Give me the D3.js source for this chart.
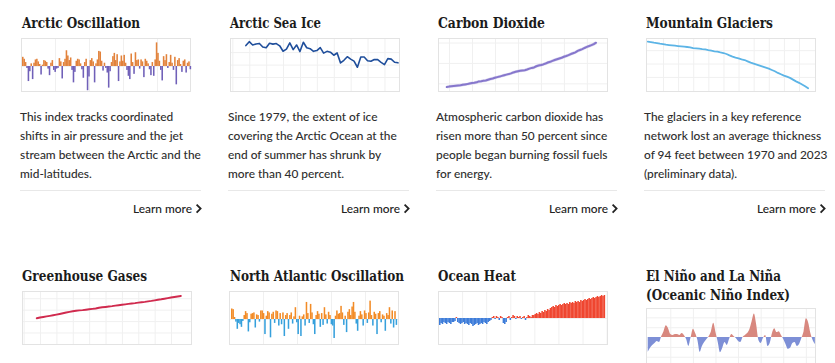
<!DOCTYPE html>
<html>
<head>
<meta charset="utf-8">
<script src="https://cdn.jsdelivr.net/npm/d3@7"></script>
<style>
  body { margin: 0; background: #fff; }
</style>
</head>
<body>
<svg id="chart" width="835" height="363"></svg>
<script>
'use strict';

// ---- data ----
var titles = [
    ['Arctic Oscillation'], ['Arctic Sea Ice'], ['Carbon Dioxide'], ['Mountain Glaciers'],
    ['Greenhouse Gases'], ['North Atlantic Oscillation'], ['Ocean Heat'],
    ['El Niño and La Niña', '(Oceanic Niño Index)']
];

var descriptions = [
    ['This index tracks coordinated', 'shifts in air pressure and the jet', 'stream between the Arctic and the', 'mid-latitudes.'],
    ['Since 1979, the extent of ice', 'covering the Arctic Ocean at the', 'end of summer has shrunk by', 'more than 40 percent.'],
    ['Atmospheric carbon dioxide has', 'risen more than 50 percent since', 'people began burning fossil fuels', 'for energy.'],
    ['The glaciers in a key reference', 'network lost an average thickness', 'of 94 feet between 1970 and 2023', '(preliminary data).']
];

var linkLabel = 'Learn more';

var aoValues = [
    1.4, 1.1, 0.6, -0.3, -2.3, -0.8, 0.4, -2.0, 0.5, 1.0,
    1.1, 0.7, 0.3, -1.3, 0.2, 0.9, 0.8, 0.6, -0.4, -1.4,
    0.5, 0.9, -0.6, -0.9, -0.4, -0.3, 1.2, 0.7, -1.9, 0.6,
    1.1, 2.4, 1.6, 0.9, 1.3, -0.6, -2.5, -0.9, 0.8, 1.1,
    1.0, 0.4, -0.5, -1.8, 0.6, 1.1, -3.7, -1.6, 0.9, 1.2,
    0.7, -2.5, 0.4, 1.0, 2.3, 2.2, 0.8, -0.7, 0.5, -0.3,
    -1.0, -3.3, -0.8, 0.6, 1.5, 2.0, 0.9, 1.8, -2.3, 0.7,
    1.6, 0.8, 1.7, 0.5, -0.6, -1.5, -2.0, 1.9, 0.6, -1.2,
    2.1, 0.9, 1.0, -0.4, 1.0, 0.7, -1.7, 1.1, 0.8, 0.4,
    -0.5, -1.4, 0.6, -1.5, 1.0, 3.6, 2.0, 0.8, -0.6, -2.2,
    1.5, 0.9, 1.8, -0.3, 0.6, 1.7, 0.5, -0.6, 1.4, -2.8,
    0.9, 1.2, 0.3, -0.9, 0.8, 1.0, -1.0, 0.5, 0.7, -0.5
];

// September extent, million km2
var iceStart = 1979;
var iceValues = [
    7.05, 7.67, 7.14, 7.30, 7.39, 6.81, 6.70, 7.41, 7.28, 7.37,
    7.01, 6.14, 6.47, 7.47, 6.40, 7.14, 6.08, 7.58, 6.69, 6.54,
    6.12, 6.25, 6.73, 5.83, 6.12, 5.98, 5.50, 5.86, 4.27, 4.69,
    5.26, 4.87, 4.56, 3.57, 5.21, 5.22, 4.62, 4.53, 4.82, 4.79,
    4.36, 4.00, 4.95, 4.87, 4.37, 4.28
];

// ppm, annual means
var co2Start = 1959;
var co2Values = [
    315.98, 316.91, 317.64, 318.45, 318.99, 319.62, 320.04, 321.37, 322.18, 323.05,
    324.62, 325.68, 326.32, 327.46, 329.68, 330.19, 331.12, 332.03, 333.84, 335.41,
    336.84, 338.76, 340.12, 341.48, 343.15, 344.87, 346.35, 347.61, 349.31, 351.69,
    353.20, 354.45, 355.70, 356.54, 357.21, 358.96, 360.97, 362.74, 363.88, 366.84,
    368.54, 369.71, 371.32, 373.45, 375.98, 377.70, 379.98, 382.09, 384.02, 385.83,
    387.64, 390.10, 391.85, 394.06, 396.74, 398.81, 401.01, 404.41, 406.76, 408.72,
    411.65, 414.21, 416.41, 418.53, 421.08, 424.61
];

// cumulative thickness change, feet
var glacierStart = 1970;
var glacierValues = [
    0, -0.7, -2, -2.7, -4, -4.7, -6, -6.7, -7.4, -8,
    -8.7, -9.4, -10, -10.7, -11.4, -12.8, -13.4, -14, -14.8, -15.4,
    -16.8, -18, -19.5, -20, -21.5, -22.8, -24.8, -27.5, -30, -32,
    -33.5, -35.5, -37, -39.6, -42.3, -44.3, -46.3, -48.3, -50.3, -52.3,
    -54.4, -57, -59.7, -63, -65.7, -68.4, -70.5, -73, -76.5, -80,
    -83, -86.5, -90, -94
];

// Annual Greenhouse Gas Index
var ghgStart = 1979;
var ghgValues = [
    0.785, 0.808, 0.826, 0.843, 0.860, 0.878, 0.898, 0.918, 0.940, 0.963,
    0.982, 1.000, 1.016, 1.027, 1.036, 1.048, 1.062, 1.074, 1.086, 1.107,
    1.122, 1.133, 1.146, 1.159, 1.175, 1.187, 1.200, 1.213, 1.226, 1.238,
    1.249, 1.264, 1.276, 1.289, 1.305, 1.319, 1.336, 1.355, 1.369, 1.386,
    1.405, 1.422, 1.437, 1.454, 1.469
];

var naoValues = [
    1.6, 1.5, 0.3, -0.4, -1.5, -0.6, -0.8, -1.2, -0.3, 0.6,
    1.2, 0.9, -1.9, -0.5, 0.8, 0.9, 1.0, -1.3, 0.7, 0.6,
    -0.4, 1.3, 1.3, 0.9, -2.3, 0.5, 1.2, 1.0, -2.8, 0.8,
    1.1, -0.6, 1.3, 1.2, -1.0, 0.9, -0.8, 1.0, -2.6, 0.6,
    0.9, -1.5, 0.6, 1.0, -0.7, 0.4, 1.8, -0.5, -2.3, 0.5,
    -2.6, 0.4, 0.7, -1.0, 2.6, 0.9, -0.6, 2.3, 1.0, -0.8,
    -2.3, 0.6, 1.2, 0.8, -1.2, 0.9, -0.9, 1.8, 0.7, -0.7,
    1.1, 0.6, -0.8, -1.0, -2.9, 0.5, 1.3, 0.8, 0.9, 2.0,
    1.0, -0.9, 0.5, -2.0, 1.1, 1.5, 0.6, 1.9, 2.6, 1.1,
    -0.7, -1.8, 0.5, 1.2, 0.7, -1.0, 1.3, 0.9, -0.6, 1.0,
    2.8, 0.6, -1.0, 1.1, 0.8, -2.3, 0.9, 1.2, -0.5, 0.7,
    0.5, -1.8, 0.9, 0.6, 1.8, -0.7, 1.3, -1.3, 1.2, -0.9
];

var oceanValues = [
    -7, -5, -6, -4, -5, -6, -4, -5, -6, -4,
    -4, -3, 1, -4, -5, -6, -5, -4, -6, -5,
    -6, -7, -5, -6, -8, -7, -6, -5, -7, -6,
    -5, -6, -4, -5, -6, -4, -3, -2,
    1, 2, -1, 2, 1, -2, 2, 1, -5, -6,
    -4, 1, 2, -2, 1, 3, 2, -1, 2, 1,
    2, -1, 1, 2, -2, 1, 3, 2, 1, 3,
    3, 4, 5, 4, 6, 5, 7, 6, 8, 7, 9, 8, 10, 11,
    12, 11, 13, 12, 13, 14, 13, 14, 15, 14, 15, 14, 16, 15, 16, 15, 17, 16,
    17, 16, 18, 17, 18, 19, 18, 19, 20, 19,
    20, 21, 20, 21, 22, 21, 22, 23, 22, 23
];

var oniStart = 1950;
var oniValues = [
    -1.5, -1.1, -0.8, -0.6, -0.4, -0.5, 0.1, 0.6, 1.2, 0.9,
    0.3, 0.2, 0.3, 0.3, 0.2, 0.4, 0.2, -0.2, -0.9, 0.0,
    0.85, 0.4, -0.3, -1.5, -0.9, -0.5, -0.2, 0.1, 0.6, 1.45,
    0.5, -0.5, -1.55, -1.1, -0.5, -0.8, -0.2, 0.3, 0.1, -0.1,
    -0.4, -0.5, 0.0, 0.2, 0.4, 0.8, 1.6, 2.4, 1.3, -0.3,
    -0.6, -0.1, 0.2, -0.9, -0.6, 0.4, 0.9, 0.5, 0.6, 0.2,
    -0.2, -0.7, -1.2, -1.1, -0.6, -0.5, -0.9, -0.7, -0.1, 0.6,
    1.9, 1.5, 0.4, -0.3, -0.7
];

// ---- layout ----
var svg = d3.select('#chart');
var colX = [20, 228, 436, 644];
var boxW = 170, boxH = 54;
var titleFont = "'DejaVu Serif Condensed', 'DejaVu Serif', serif";
var bodyFont = "Lato, 'Open Sans', sans-serif";
// title widths as they appear in the picture
var titleWidths = [[118], [91], [107], [127], [125], [174], [78], [135, 144]];

function measure(text, family, weight, size) {
    var t = svg.append('text')
        .attr('font-family', family)
        .attr('font-weight', weight)
        .attr('font-size', size)
        .text(text);
    var w = t.node().getComputedTextLength();
    t.remove();
    return w;
}

// size the body text so the widest sample line is as wide as in the picture
var bodySize = 13 * 181 / measure('stream between the Arctic and the', bodyFont, 500, 13);

function grid(g, xs, ys, bx, by, bh, xTicks, yTicks) {
    var gx = g.append('g')
        .attr('transform', 'translate(0,' + (by + bh) + ')')
        .call(d3.axisBottom(xs).tickValues(xTicks).tickSize(-bh).tickFormat(''));
    var gy = g.append('g')
        .attr('transform', 'translate(' + bx + ',0)')
        .call(d3.axisRight(ys).tickValues(yTicks).tickSize(boxW).tickFormat(''));
    [gx, gy].forEach(function(a) {
        a.select('.domain').remove();
        a.selectAll('line').attr('stroke', '#f0f0f0');
    });
    g.append('rect')
        .attr('x', bx + 0.5).attr('y', by + 0.5)
        .attr('width', boxW - 1).attr('height', bh - 1)
        .attr('fill', 'none')
        .attr('stroke', '#e3e3e3');
}

function barChart(g, bx, by, values, yDom, pos, neg, pad, gridStep, yTicks) {
    var xs = d3.scaleBand()
        .domain(d3.range(values.length))
        .range([bx + pad[0], bx + boxW - pad[1]]);
    var xl = d3.scaleLinear().domain([0, values.length]).range([bx, bx + boxW]);
    var ys = d3.scaleLinear().domain(yDom).range([by + boxH, by]);
    grid(g, xl, ys, bx, by, boxH, d3.range(gridStep, values.length, gridStep), yTicks);

    g.append('g').selectAll('rect')
        .data(values)
        .enter()
        .append('rect')
        .attr('x', function(d, i) { return xs(i); })
        .attr('width', xs.bandwidth() + 0.15)
        .attr('y', function(d) { return ys(Math.max(0, d)); })
        .attr('height', function(d) { return Math.abs(ys(d) - ys(0)); })
        .attr('fill', function(d) { return d >= 0 ? pos : neg; });
}

function lineChart(g, bx, by, start, values, xDom, yDom, xTicks, yTicks, color, width, halo) {
    var xs = d3.scaleLinear().domain(xDom).range([bx, bx + boxW]);
    var ys = d3.scaleLinear().domain(yDom).range([by + boxH, by]);
    grid(g, xs, ys, bx, by, boxH, xTicks, yTicks);

    var line = d3.line()
        .x(function(d, i) { return xs(start + i); })
        .y(function(d) { return ys(d); });
    if (halo) {
        g.append('path').datum(values)
            .attr('d', line).attr('fill', 'none')
            .attr('stroke', halo).attr('stroke-width', width + 1)
            .attr('stroke-linejoin', 'round');
    }
    g.append('path').datum(values)
        .attr('d', line).attr('fill', 'none')
        .attr('stroke', color).attr('stroke-width', width)
        .attr('stroke-linejoin', 'round').attr('stroke-linecap', 'round');
}

function oniChart(g, bx, by, bh) {
    var xs = d3.scaleLinear().domain([1949.25, 2024.5]).range([bx, bx + boxW]);
    var ys = d3.scaleLinear().domain([-2.74, 2.95]).range([by + bh - 2, by]);
    grid(g, xs, ys, bx, by, bh, d3.range(1960, 2024, 10), [-2, -1, 1, 2]);

    var area = d3.area()
        .curve(d3.curveMonotoneX)
        .x(function(d, i) { return xs(oniStart + i); })
        .y0(ys(0))
        .y1(function(d) { return ys(d); });

    var defs = svg.append('defs');
    defs.append('clipPath').attr('id', 'oni-up')
        .append('rect').attr('x', bx).attr('y', by).attr('width', boxW).attr('height', ys(0) - by);
    defs.append('clipPath').attr('id', 'oni-down')
        .append('rect').attr('x', bx).attr('y', ys(0)).attr('width', boxW).attr('height', bh);

    g.append('path').datum(oniValues)
        .attr('d', area).attr('fill', '#d8887f')
        .attr('clip-path', 'url(#oni-up)');
    g.append('path').datum(oniValues)
        .attr('d', area).attr('fill', '#7d8fd6')
        .attr('clip-path', 'url(#oni-down)');
}

function drawTitle(g, x, y, lines, widths) {
    lines.forEach(function(txt, k) {
        g.append('text')
            .attr('x', x).attr('y', y + k * 19)
            .attr('font-family', titleFont)
            .attr('font-weight', 700)
            .attr('font-size', 15)
            .attr('textLength', widths[k])
            .attr('lengthAdjust', 'spacingAndGlyphs')
            .attr('fill', '#1b1b1b')
            .text(txt);
    });
}

function drawBody(g, x, lines) {
    lines.forEach(function(txt, k) {
        g.append('text')
            .attr('x', x).attr('y', 120.5 + k * 19)
            .attr('font-family', bodyFont)
            .attr('font-weight', 500)
            .attr('font-size', bodySize)
            .attr('fill', '#2e2e2e')
            .text(txt);
    });
    g.append('line')
        .attr('x1', x).attr('x2', x + 181)
        .attr('y1', 190.5).attr('y2', 190.5)
        .attr('stroke', '#e8e8e8');
    g.append('text')
        .attr('x', x + 172).attr('y', 212.5)
        .attr('text-anchor', 'end')
        .attr('font-family', bodyFont)
        .attr('font-weight', 500)
        .attr('font-size', bodySize)
        .attr('fill', '#222')
        .text(linkLabel);
    g.append('path')
        .attr('d', 'M' + (x + 176.6) + ',204.6L' + (x + 180.6) + ',208.6L' + (x + 176.6) + ',212.6')
        .attr('fill', 'none')
        .attr('stroke', '#222')
        .attr('stroke-width', 1.8);
}

// ---- row 1 ----
var g;
g = svg.append('g');
drawTitle(g, colX[0] + 2, 28, titles[0], titleWidths[0]);
barChart(g, colX[0] + 1, 38, aoValues, [-3.97, 4.27], '#e2823b', '#7060b8', [1, 0], 24, [0]);
drawBody(g, colX[0], descriptions[0]);

g = svg.append('g');
drawTitle(g, colX[1] + 2, 28, titles[1], titleWidths[1]);
lineChart(g, colX[1] + 2, 38, iceStart, iceValues, [1974.3, 2024.6], [-0.4, 8.26],
    d3.range(1975, 2025, 5), [2, 4, 6], '#1f4e9b', 1.6);
drawBody(g, colX[1], descriptions[1]);

g = svg.append('g');
drawTitle(g, colX[2] + 2, 28, titles[2], titleWidths[2]);
lineChart(g, colX[2] + 2, 38, co2Start, co2Values, [1955.2, 2029.2], [303.7, 436.1],
    d3.range(1960, 2030, 10), [325, 375, 425], '#8677cc', 2, 'rgba(180,170,225,0.45)');
drawBody(g, colX[2], descriptions[2]);

g = svg.append('g');
drawTitle(g, colX[3] + 2, 28, titles[3], titleWidths[3]);
lineChart(g, colX[3] + 2, 38, glacierStart, glacierValues, [1969.4, 2025.6], [-101.5, 7.5],
    d3.range(1975, 2025, 5), [-17, -44, -71], '#5cb4e6', 1.8);
drawBody(g, colX[3], descriptions[3]);

// ---- row 2 ----
g = svg.append('g');
drawTitle(g, colX[0] + 2, 281, titles[4], titleWidths[4]);
lineChart(g, colX[0] + 2, 291, ghgStart, ghgValues, [1974.5, 2026.4], [-0.034, 1.622],
    d3.range(1975, 2025, 5), [0.35, 0.7, 1.05, 1.4], '#d02a4e', 1.9);

g = svg.append('g');
drawTitle(g, colX[1] + 2, 281, titles[5], titleWidths[5]);
barChart(g, colX[1] + 1, 291, naoValues, [-3.97, 4.27], '#f28b26', '#36a0dc', [2, 2], 24, [0]);

g = svg.append('g');
drawTitle(g, colX[2] + 2, 281, titles[6], titleWidths[6]);
barChart(g, colX[2] + 2, 291, oceanValues, [-27, 27], '#ef4630', '#3d7cd9', [1, 3], 17, [0]);

g = svg.append('g');
drawTitle(g, colX[3] + 2, 281, titles[7], titleWidths[7]);
oniChart(g, colX[3] + 2, 308, 58);
</script>
</body>
</html>
